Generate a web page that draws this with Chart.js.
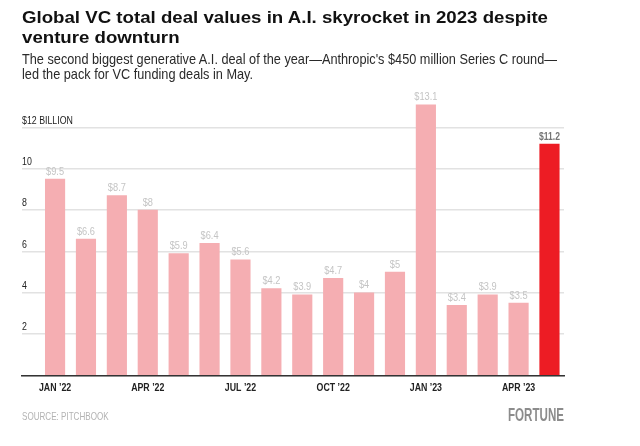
<!DOCTYPE html>
<html>
<head>
<meta charset="utf-8">
<script src="https://cdn.jsdelivr.net/npm/chart.js@4.4.1/dist/chart.umd.min.js"></script>
<style>
  html, body { margin: 0; padding: 0; background: #fff; }
  #wrap { position: relative; width: 640px; height: 446px; overflow: hidden; }
  canvas { position: absolute; left: 0; top: 0; }
  .t { position: absolute; left: 22px; white-space: nowrap; display: inline-block; transform-origin: 0 0; font-family: "Liberation Sans", Arial, sans-serif; }
  #title { top: 6.7px; font-weight: bold; font-size: 16.5px; line-height: 20.6px; color: #111; }
  #sub { top: 51.3px; font-size: 15px; line-height: 15px; color: #2a2a2a; }
  #src { top: 410.4px; font-size: 10.5px; line-height: 12px; color: #b3b3b3; }
  #brand { left: 508px; top: 405.3px; font-weight: bold; font-size: 18.6px; line-height: 20px; color: #8c8c8c; }
</style>
</head>
<body>
<div id="wrap">
  <canvas id="c" width="640" height="446"></canvas>
  <div class="t fit" id="title" data-w="526">Global VC total deal values in A.I. skyrocket in 2023 despite<br>venture downturn</div>
  <div class="t fit" id="sub" data-w="535">The second biggest generative A.I. deal of the year—Anthropic's $450 million Series C round—<br>led the pack for VC funding deals in May.</div>
  <div class="t fit" id="src" data-w="86.6">SOURCE: PITCHBOOK</div>
  <div class="t fit" id="brand" data-w="56">FORTUNE</div>
</div>
<script>
const months = ["Jan 2022","Feb 2022","Mar 2022","Apr 2022","May 2022","Jun 2022","Jul 2022","Aug 2022","Sep 2022","Oct 2022","Nov 2022","Dec 2022","Jan 2023","Feb 2023","Mar 2023","Apr 2023","May 2023"];
const dealValues = [9.5, 6.6, 8.7, 8, 5.9, 6.4, 5.6, 4.2, 3.9, 4.7, 4, 5, 13.1, 3.4, 3.9, 3.5, 11.2];
const xTickIndex = [0, 3, 6, 9, 12, 15];
const xTickLabels = ["JAN \u201922", "APR \u201922", "JUL \u201922", "OCT \u201922", "JAN \u201923", "APR \u201923"];
const yTickValues = [0, 2, 4, 6, 8, 10, 12];
const yTickLabels = ["", "2", "4", "6", "8", "10", "$12 BILLION"];

// fit condensed-looking HTML text to measured widths
document.querySelectorAll('.fit').forEach(el => {
  const w = el.getBoundingClientRect().width;
  el.style.transform = 'scaleX(' + (parseFloat(el.dataset.w) / w) + ')';
});

const FONT = '"Liberation Sans", Arial, sans-serif';
const PINK = '#F5AEB2';
const RED = '#ED1C24';

function squeezeText(ctx, text, x, y, font, color, align, sx) {
  ctx.save();
  ctx.font = font;
  ctx.fillStyle = color;
  ctx.textBaseline = 'alphabetic';
  ctx.textAlign = align;
  ctx.translate(x, y);
  ctx.scale(sx, 1);
  ctx.fillText(text, 0, 0);
  ctx.restore();
}

const textPlugin = {
  id: 'condensedText',
  afterDatasetsDraw(chart) {
    const ctx = chart.ctx;
    const meta = chart.getDatasetMeta(0);
    meta.data.forEach((el, i) => {
      const last = i === dealValues.length - 1;
      squeezeText(ctx, '$' + dealValues[i], el.x, el.y - 4.5,
        (last ? 'bold ' : '') + '11px ' + FONT, last ? '#757575' : '#c4c4c4', 'center', last ? 0.78 : 0.84);
    });
    const xs = chart.scales.x, ys = chart.scales.y;
    xTickIndex.forEach((v, k) => {
      squeezeText(ctx, xTickLabels[k], xs.getPixelForValue(v), 391, 'bold 11px ' + FONT, '#222', 'center', 0.8);
    });
    yTickValues.forEach((v, k) => {
      if (!yTickLabels[k]) return;
      squeezeText(ctx, yTickLabels[k], chart.chartArea.left, ys.getPixelForValue(v) - 4, '11px ' + FONT, '#222', 'left', 0.8);
    });
  }
};

new Chart(document.getElementById('c'), {
  type: 'bar',
  data: {
    datasets: [{
      data: dealValues.map((v, i) => ({ x: i, y: v })),
      backgroundColor: dealValues.map((v, i) => i === dealValues.length - 1 ? RED : PINK),
      barThickness: 19.5,
      clip: false
    }]
  },
  options: {
    responsive: false,
    animation: false,
    layout: { padding: { top: 127.5, right: 76, left: 0, bottom: 0 } },
    plugins: { legend: { display: false }, tooltip: { enabled: false } },
    scales: {
      x: {
        type: 'linear',
        offset: false,
        min: -1.07,
        max: 16.47,
        grid: { display: false, drawTicks: false, offset: false },
        border: { display: true, color: '#333', width: 1.5 },
        afterBuildTicks(scale) { scale.ticks = xTickIndex.map(v => ({ value: v })); },
        afterFit(scale) { scale.height = 70.5; },
        ticks: { display: false }
      },
      y: {
        min: 0,
        max: 12,
        grid: { color: '#e2e2e2', lineWidth: 1.5, drawTicks: false },
        border: { display: false },
        afterBuildTicks(scale) { scale.ticks = yTickValues.map(v => ({ value: v })); },
        afterFit(scale) { scale.width = 22; },
        ticks: { display: false }
      }
    }
  },
  plugins: [textPlugin]
});
</script>
</body>
</html>
